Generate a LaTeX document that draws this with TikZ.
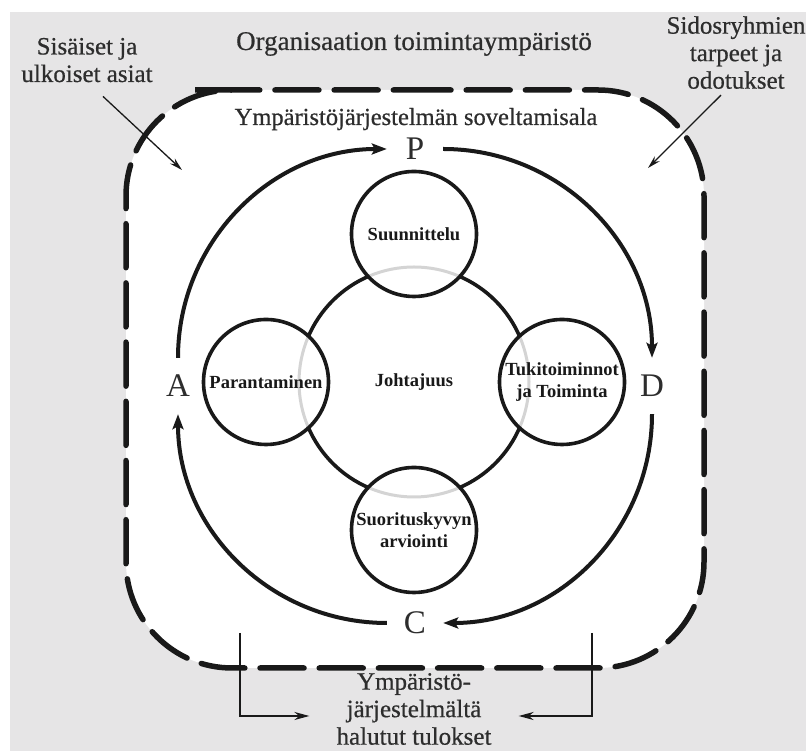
\documentclass[tikz,border=0pt]{standalone}
\usepackage{fontspec}
\setmainfont{Liberation Serif}
\newfontfamily\envfont[FakeBold=0.6]{Liberation Serif}
\usetikzlibrary{arrows.meta, positioning, calc}
\definecolor{cEnv}{RGB}{230,229,230}
\definecolor{cGhost}{RGB}{212,212,212}
\definecolor{cInk}{RGB}{25,25,25}
\definecolor{cText}{RGB}{45,45,45}
\tikzset{
    envtext/.style    ={align=center, text=cText, font=\envfont\fontsize{25}{27.5}\selectfont, inner sep=0pt},
    core/.style       ={circle, draw=cInk, line width=3.6pt, minimum size=230pt, inner sep=0pt, align=center, text=cInk, font=\bfseries\fontsize{18.5}{22}\selectfont},
    phase/.style      ={circle, draw=cInk, fill=white, line width=3.6pt, minimum size=125pt, inner sep=0pt, align=center, text=cInk, font=\bfseries\fontsize{18.5}{22}\selectfont,
                        path picture={\draw[cGhost, line width=3pt] (joht.center) circle[radius=115pt];}},
    pdca/.style       ={circle, minimum size=56pt, inner sep=0pt, text=cText, font=\fontsize{33}{33}\selectfont},
    cyclearrow/.style ={-{Stealth[length=15pt,width=11pt,inset=3pt]}, line width=4pt, draw=cInk},
    notearrow/.style  ={-{Stealth[length=13pt,width=7pt]}, line width=1.3pt, draw=cInk},
    resultarrow/.style={-{Stealth[length=15pt,width=8pt]}, line width=2pt, draw=cInk},
    scopeline/.style  ={line width=5.5pt, draw=cInk, line cap=round, dash pattern=on 44pt off 15.2pt, rounded corners=106pt},
}
\begin{document}
\begin{tikzpicture}[x=1pt, y=1pt]
    \useasboundingbox (0,0) rectangle (806,751);
    \fill[cEnv] (10,0) rectangle (806,739);
    \fill[white, rounded corners=106pt] (301,661) -- (704,661) -- (704,83) -- (126,83) -- (126,661) -- cycle;
    \draw[scopeline] (301,661) -- (704,661) -- (704,83) -- (126,83) -- (126,661) -- cycle;

    \node[envtext, anchor=base, font=\envfont\fontsize{27}{30}\selectfont] (org) at (414,701) {Organisaation toimintaympäristö};
    \node[envtext, anchor=base, font=\envfont\fontsize{24.5}{27}\selectfont] (ems) at (416,626) {Ympäristöjärjestelmän soveltamisala};
    \node[envtext] (sis) at (87,690.9) {Sisäiset ja\\ulkoiset asiat};
    \node[envtext] (sidos) at (736,698.4) {Sidosryhmien\\tarpeet ja\\odotukset};
    \node[envtext] (tulos) at (414,42) {Ympäristö-\\järjestelmältä\\halutut tulokset};

    \coordinate (cen) at (414,369);
    \node[core] (joht) at (cen) {Johtajuus};
    \node[phase] (suun) at ($(cen)+(90:148)$) {Suunnittelu};
    \node[phase] (tuki) at ($(cen)+(0:148)$) {Tukitoiminnot\\ja Toiminta};
    \node[phase] (suor) at ($(cen)+(-90:148)$) {Suorituskyvyn\\arviointi};
    \node[phase] (para) at ($(cen)+(180:148)$) {Parantaminen};

    \coordinate (cyc) at (415,365);
    \node[pdca] (P) at ($(cyc)+(90:237)$) {P};
    \node[pdca] (D) at ($(cyc)+(0:237)$) {D};
    \node[pdca] (C) at ($(cyc)+(-90:237)$) {C};
    \node[pdca] (A) at ($(cyc)+(180:237)$) {A};
    \draw[cyclearrow] (P) to[out=0, in=90] (D);
    \draw[cyclearrow] (D) to[out=-90, in=0] (C);
    \draw[cyclearrow] (C) to[out=180, in=-90] (A);
    \draw[cyclearrow] (A) to[out=90, in=180] (P);

    \coordinate (sisend) at (182,581);
    \coordinate (sidosend) at (648,583);
    \draw[notearrow] ([xshift=16pt,yshift=-14pt]sis.south) -- (sisend);
    \draw[notearrow] ([xshift=-15pt,yshift=-6pt]sidos.south) -- (sidosend);

    \coordinate (resL) at (240,118);
    \coordinate (resR) at (592,118);
    \draw[resultarrow] (resL) |- ([xshift=-27pt,yshift=-7pt]tulos.west);
    \draw[resultarrow] (resR) |- ([xshift=27pt,yshift=-7pt]tulos.east);
\end{tikzpicture}
\end{document}
